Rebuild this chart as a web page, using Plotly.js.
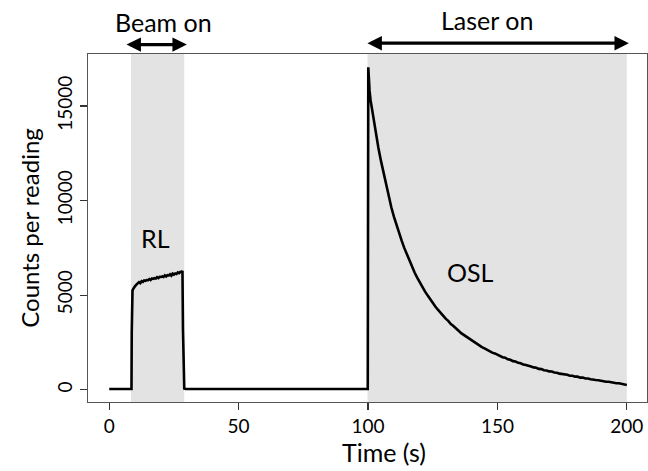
<!DOCTYPE html>
<html>
<head>
<meta charset="utf-8">
<script src="https://cdn.plot.ly/plotly-3.0.1.min.js"></script>
<style>html,body{margin:0;padding:0;background:#fff;}#chart{width:648px;height:471px;}</style>
</head>
<body>
<div id="chart"></div>
<script>
// Time (s) and counts per reading
var timeS = [0, 2, 4, 6, 8, 8.6, 8.7, 8.8, 9.0, 9.3, 9.6, 10.0, 10.5,
  11.0, 11.5, 12.0, 12.5, 13.0, 13.5, 14.0, 14.5, 15.0, 15.5, 16.0, 16.5, 17.0, 17.5, 18.0, 18.5,
  19.0, 19.5, 20.0, 20.5, 21.0, 21.5, 22.0, 22.5, 23.0, 23.5, 24.0, 24.5, 25.0, 25.5, 26.0, 26.5,
  27.0, 27.5, 28.0, 28.3, 28.5, 28.7, 29.0, 29.5,
  35, 45, 55, 65, 75, 85, 95, 99.9,
  100.1, 100.3, 100.6, 101, 101.5, 102, 102.5, 103, 103.5, 104, 105, 106, 107, 108, 109, 110,
  111, 112, 113, 114, 115, 116, 117, 118, 119, 120, 121, 122, 123, 124, 125, 126, 127, 128, 129, 130,
  131, 132, 133, 134, 135, 136, 137, 138, 139, 140, 141, 142, 143, 144, 145, 146, 147, 148, 149, 150,
  151, 152, 153, 154, 155, 156, 157, 158, 159, 160, 161, 162, 163, 164, 165, 166, 167, 168, 169, 170,
  171, 172, 173, 174, 175, 176, 177, 178, 179, 180, 181, 182, 183, 184, 185, 186, 187, 188, 189, 190,
  191, 192, 193, 194, 195, 196, 197, 198, 199, 200];
var counts = [40, 40, 40, 40, 40, 40, 3000, 4900, 5250, 5330, 5420, 5480, 5560,
  5620, 5690, 5640, 5740, 5700, 5780, 5760, 5800, 5790, 5850, 5800, 5880, 5860, 5900, 5880, 5950,
  5900, 5970, 5960, 5990, 5960, 6050, 5990, 6060, 6040, 6100, 6030, 6140, 6090, 6150, 6120, 6200,
  6160, 6230, 6210, 6290, 3200, 300, 60, 40,
  40, 40, 40, 40, 40, 40, 40, 40,
  17050, 16300, 15800, 15300, 14850, 14400, 14000, 13600, 13200, 12800, 12100, 11450, 10800, 10200, 9650, 9150,
  8700, 8280, 7880, 7500, 7150, 6820, 6500, 6200, 5930, 5670, 5430, 5200, 4990, 4780, 4590, 4400, 4230, 4060, 3900, 3760,
  3640, 3470, 3370, 3220, 3120, 2990, 2900, 2780, 2700, 2590, 2520, 2420, 2350, 2250, 2190, 2100, 2050, 1960, 1920, 1840,
  1800, 1720, 1690, 1610, 1580, 1510, 1490, 1420, 1400, 1330, 1310, 1250, 1230, 1180, 1160, 1100, 1090, 1030, 1020, 970,
  960, 910, 900, 850, 840, 800, 790, 740, 740, 690, 690, 640, 640, 590, 590, 550, 550, 510, 500, 460,
  460, 420, 420, 380, 380, 340, 340, 300, 300, 250];

var xTicks = [0, 50, 100, 150, 200];
var yTicks = [0, 5000, 10000, 15000];
var beamOn = [8.4, 29.0];
var laserOn = [99.8, 200];

var font = 'Lato, "Open Sans", sans-serif';
var trace = {
  x: timeS, y: counts, type: 'scatter', mode: 'lines',
  line: {color: '#000', width: 2.6}, hoverinfo: 'skip', showlegend: false
};

var layout = {
  width: 648, height: 471,
  margin: {l: 88, r: 1, t: 54, b: 69, pad: 0},
  paper_bgcolor: '#fff', plot_bgcolor: '#fff',
  font: {family: font, color: '#000', size: 19},
  xaxis: {
    range: [-8.2, 207.8], tickvals: xTicks, ticktext: xTicks.map(String),
    showgrid: false, zeroline: false, showline: true, mirror: true,
    linecolor: '#555', linewidth: 1.3, ticks: 'outside', ticklen: 7, tickwidth: 1.2, tickcolor: '#333',
    tickfont: {size: 19, family: font},
    title: {text: ''}
  },
  yaxis: {
    range: [-650, 17753], tickvals: yTicks, ticktext: yTicks.map(String), tickangle: -90,
    showgrid: false, zeroline: false, showline: true, mirror: true,
    linecolor: '#555', linewidth: 1.3, ticks: 'outside', ticklen: 7, tickwidth: 1.2, tickcolor: '#333',
    tickfont: {size: 19, family: font},
    title: {text: 'Counts per reading', font: {size: 24, family: font}, standoff: 6}
  },
  shapes: [
    {type: 'rect', xref: 'x', yref: 'paper', x0: beamOn[0], x1: beamOn[1], y0: 0, y1: 1,
     fillcolor: '#e3e3e3', line: {width: 0}, layer: 'below'},
    {type: 'rect', xref: 'x', yref: 'paper', x0: laserOn[0], x1: laserOn[1], y0: 0, y1: 1,
     fillcolor: '#e3e3e3', line: {width: 0}, layer: 'below'}
  ],
  annotations: [
    {x: 30.0, y: 1.027, xref: 'x', yref: 'paper', ax: 6.1, ay: 1.027, axref: 'x', ayref: 'paper',
     showarrow: true, arrowside: 'end+start', arrowhead: 2, arrowsize: 0.9, arrowwidth: 3.2, arrowcolor: '#000', text: ''},
    {x: 200.8, y: 1.031, xref: 'x', yref: 'paper', ax: 99.2, ay: 1.031, axref: 'x', ayref: 'paper',
     showarrow: true, arrowside: 'end+start', arrowhead: 2, arrowsize: 0.9, arrowwidth: 3.2, arrowcolor: '#000', text: ''},
    {x: 21, y: 1.092, xref: 'x', yref: 'paper', yanchor: 'middle', text: 'Beam on', showarrow: false,
     font: {size: 25, family: font, color: '#000'}},
    {x: 146, y: 1.098, xref: 'x', yref: 'paper', yanchor: 'middle', text: 'Laser on', showarrow: false,
     font: {size: 25, family: font, color: '#000'}},
    {x: 17.7, y: 8020, xref: 'x', yref: 'y', text: 'RL', showarrow: false,
     font: {size: 25, family: font, color: '#000'}},
    {x: 139.5, y: 6220, xref: 'x', yref: 'y', text: 'OSL', showarrow: false,
     font: {size: 25, family: font, color: '#000'}},
    {x: 106, y: -0.144, xref: 'x', yref: 'paper', yanchor: 'middle', text: 'Time (s)', showarrow: false,
     font: {size: 25, family: font, color: '#000'}}
  ]
};

Plotly.newPlot('chart', [trace], layout, {staticPlot: true, displayModeBar: false});
</script>
</body>
</html>
